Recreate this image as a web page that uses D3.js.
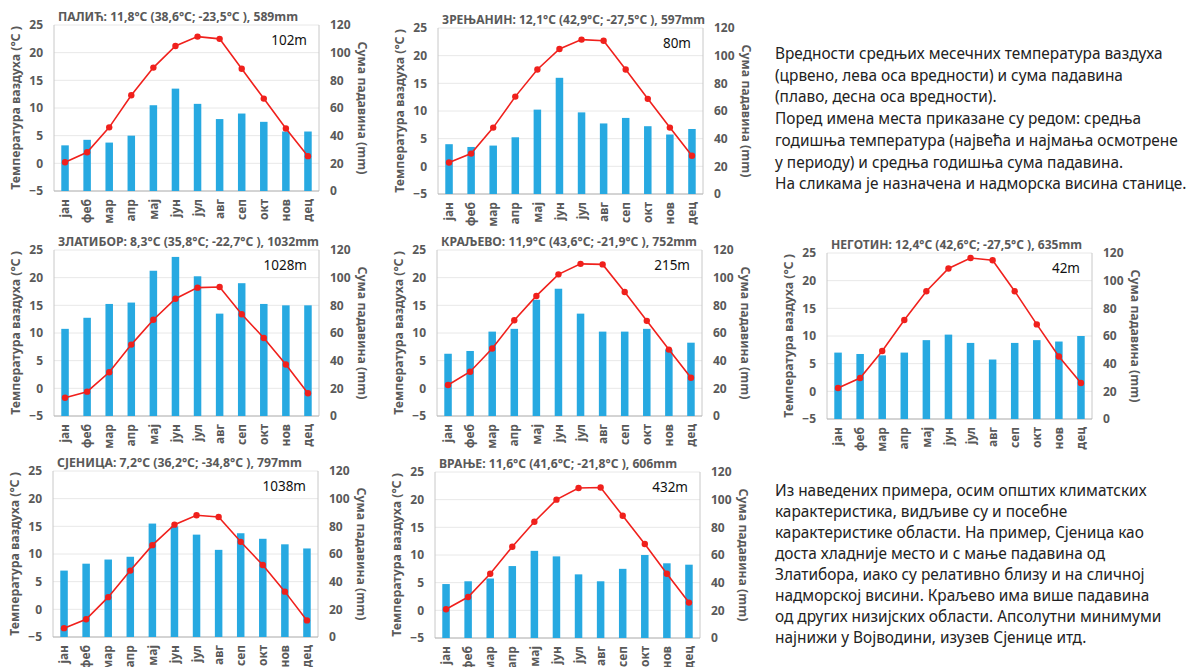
<!DOCTYPE html>
<html>
<head>
<meta charset="utf-8">
<script src="https://cdn.jsdelivr.net/npm/d3@7"></script>
<style>
body { margin: 0; background: #fff; }
svg text { font-family: "Noto Sans", "Open Sans", sans-serif; }
</style>
</head>
<body>
<svg id="chart" width="1191" height="667"></svg>
<script>
// months + axis ticks
const MONTHS = ["јан","феб","мар","апр","мај","јун","јул","авг","сеп","окт","нов","дец"];
const TEMP_TICKS = [-5, 0, 5, 10, 15, 20, 25];
const PRECIP_TICKS = [0, 20, 40, 60, 80, 100, 120];

// station headers
const TITLES = [
    "ПАЛИЋ: 11,8°C (38,6°C; -23,5°C ), 589mm",
    "ЗРЕЊАНИН: 12,1°C (42,9°C; -27,5°C ), 597mm",
    "ЗЛАТИБОР: 8,3°C (35,8°C; -22,7°C ), 1032mm",
    "КРАЉЕВО: 11,9°C (43,6°C; -21,9°C ), 752mm",
    "НЕГОТИН: 12,4°C (42,6°C; -27,5°C ), 635mm",
    "СЈЕНИЦА: 7,2°C (36,2°C; -34,8°C ), 797mm",
    "ВРАЊЕ: 11,6°C (41,6°C; -21,8°C ), 606mm"
];
const ALTITUDES = ["102m", "80m", "1028m", "215m", "42m", "1038m", "432m"];

// mean monthly temperature (°C)
const TEMP_PALIC     = [0.2, 2.0, 6.5, 12.3, 17.3, 21.2, 22.9, 22.5, 17.1, 11.7, 6.3, 1.3];
const TEMP_ZRENJANIN = [0.7, 2.3, 7.0, 12.6, 17.5, 21.2, 22.9, 22.7, 17.5, 12.2, 7.0, 1.9];
const TEMP_ZLATIBOR  = [-1.7, -0.6, 2.9, 7.9, 12.4, 16.2, 18.2, 18.3, 13.4, 9.1, 4.3, -0.9];
const TEMP_KRALJEVO  = [0.6, 3.0, 7.2, 12.3, 16.7, 20.6, 22.5, 22.4, 17.4, 12.2, 7.0, 1.9];
const TEMP_NEGOTIN   = [0.6, 2.4, 7.3, 12.9, 18.1, 22.2, 24.1, 23.7, 18.1, 12.1, 6.3, 1.5];
const TEMP_SJENICA   = [-3.4, -1.8, 2.2, 7.0, 11.6, 15.3, 17.0, 16.7, 12.2, 8.0, 3.2, -2.0];
const TEMP_VRANJE    = [0.2, 2.4, 6.6, 11.5, 16.0, 20.0, 22.1, 22.2, 17.1, 12.0, 6.6, 1.4];

// monthly precipitation (mm)
const PRECIP_PALIC     = [33, 37, 35, 40, 62, 74, 63, 52, 56, 50, 43, 43];
const PRECIP_ZRENJANIN = [36, 34, 35, 41, 61, 84, 59, 51, 55, 49, 43, 47];
const PRECIP_ZLATIBOR  = [63, 71, 81, 82, 105, 115, 101, 74, 96, 81, 80, 80];
const PRECIP_KRALJEVO  = [45, 47, 61, 63, 84, 92, 74, 61, 61, 63, 48, 53];
const PRECIP_NEGOTIN   = [48, 47, 46, 48, 57, 61, 55, 43, 55, 57, 56, 60];
const PRECIP_SJENICA   = [48, 53, 56, 58, 82, 80, 74, 63, 75, 71, 67, 64];
const PRECIP_VRANJE    = [39, 41, 43, 52, 63, 59, 46, 41, 50, 60, 54, 53];

const NOTE_TOP = [
    "Вредности средњих месечних температура ваздуха",
    "(црвено, лева оса вредности) и сума падавина",
    "(плаво, десна оса вредности).",
    "Поред имена места приказане су редом: средња",
    "годишња температура (највећа и најмања осмотрене",
    "у периоду) и средња годишња сума падавина.",
    "На сликама је назначена и надморска висина станице."
];
const NOTE_BOTTOM = [
    "Из наведених примера, осим општих климатских",
    "карактеристика, видљиве су и посебне",
    "карактеристике области. На пример, Сјеница као",
    "доста хладније место и с мање падавина од",
    "Златибора, иако су релативно близу и на сличној",
    "надморској висини. Краљево има више падавина",
    "од других низијских области. Апсолутни минимуми",
    "најнижи у Војводини, изузев Сјенице итд."
];

const PLOT_W = 265;
const PLOT_H = 166;
const GRAY = "#595959";
const BAR_COLOR = "#27a9e1";
const LINE_COLOR = "#f0201c";
const TICK_SIZE = 12;

// plot-area top-left corner of every panel, and header width
const PANEL_POS = [[54, 25], [438, 28], [54, 250], [437, 250], [827, 253], [53, 471], [435, 472]];
const TITLE_W = [240, 263, 261, 256, 251, 245, 238];
const TEMPS = [TEMP_PALIC, TEMP_ZRENJANIN, TEMP_ZLATIBOR, TEMP_KRALJEVO, TEMP_NEGOTIN, TEMP_SJENICA, TEMP_VRANJE];
const PRECIPS = [PRECIP_PALIC, PRECIP_ZRENJANIN, PRECIP_ZLATIBOR, PRECIP_KRALJEVO, PRECIP_NEGOTIN, PRECIP_SJENICA, PRECIP_VRANJE];

var svg = d3.select("#chart");

var x = d3.scaleBand().domain(MONTHS).range([0, PLOT_W]);
var yT = d3.scaleLinear().domain([-5, 25]).range([PLOT_H, 0]);
var yP = d3.scaleLinear().domain([0, 120]).range([PLOT_H, 0]);

function styleTicks(g, size){
    g.select(".domain").remove();
    g.selectAll(".tick text")
        .attr("fill", GRAY)
        .style("font-size", size + "px")
        .style("font-weight", "bold");
}

function drawPanel(i){
    var temp = TEMPS[i],
        precip = PRECIPS[i],
        pos = PANEL_POS[i];

    var g = svg.append("g")
        .attr("transform", `translate(${pos[0]},${pos[1]})`);

    // gridlines
    g.selectAll(".grid")
        .data(TEMP_TICKS)
        .enter()
        .append("line")
        .attr("x1", 0)
        .attr("x2", PLOT_W)
        .attr("y1", d => yT(d))
        .attr("y2", d => yT(d))
        .attr("stroke", "#e8e8e8")
        .attr("stroke-width", 1);

    // frame
    g.append("line").attr("x1", 0).attr("x2", 0).attr("y1", 0).attr("y2", PLOT_H).attr("stroke", "#c8c8c8");
    g.append("line").attr("x1", PLOT_W).attr("x2", PLOT_W).attr("y1", 0).attr("y2", PLOT_H).attr("stroke", "#c8c8c8");
    g.append("line").attr("x1", 0).attr("x2", PLOT_W).attr("y1", PLOT_H).attr("y2", PLOT_H).attr("stroke", "#b4b4b4");

    // bars
    var bw = x.bandwidth() * 0.34;
    g.selectAll(".bar")
        .data(precip)
        .enter()
        .append("rect")
        .attr("x", (d, j) => x(MONTHS[j]) + (x.bandwidth() - bw) / 2)
        .attr("y", d => yP(d))
        .attr("width", bw)
        .attr("height", d => PLOT_H - yP(d))
        .attr("fill", BAR_COLOR);

    // temperature line
    var line = d3.line()
        .x((d, j) => x(MONTHS[j]) + x.bandwidth() / 2)
        .y(d => yT(d));

    g.append("path")
        .datum(temp)
        .attr("d", line)
        .attr("fill", "none")
        .attr("stroke", LINE_COLOR)
        .attr("stroke-width", 1.6);

    g.selectAll(".dot")
        .data(temp)
        .enter()
        .append("circle")
        .attr("cx", (d, j) => x(MONTHS[j]) + x.bandwidth() / 2)
        .attr("cy", d => yT(d))
        .attr("r", 3.2)
        .attr("fill", LINE_COLOR);

    // axes
    g.append("g")
        .call(d3.axisLeft(yT).tickValues(TEMP_TICKS).tickSize(0).tickPadding(11))
        .call(a => styleTicks(a, TICK_SIZE));

    g.append("g")
        .attr("transform", `translate(${PLOT_W},0)`)
        .call(d3.axisRight(yP).tickValues(PRECIP_TICKS).tickSize(0).tickPadding(11))
        .call(a => styleTicks(a, TICK_SIZE));

    g.append("g")
        .attr("transform", `translate(0,${PLOT_H})`)
        .call(d3.axisBottom(x).tickSize(0))
        .call(a => styleTicks(a, TICK_SIZE))
        .call(a => a.selectAll(".tick text")
            .attr("transform", "rotate(-90)")
            .attr("text-anchor", "end")
            .attr("x", -8)
            .attr("y", 0)
            .attr("dy", "0.35em"));

    // axis titles
    g.append("text")
        .attr("transform", `translate(-38,${PLOT_H / 2}) rotate(-90)`)
        .attr("text-anchor", "middle")
        .attr("dy", "0.35em")
        .attr("fill", GRAY)
        .style("font-size", "12.3px")
        .style("font-weight", "bold")
        .text("Температура ваздуха (°C )");

    g.append("text")
        .attr("transform", `translate(${PLOT_W + 43},${PLOT_H / 2}) rotate(90)`)
        .attr("text-anchor", "middle")
        .attr("dy", "0.35em")
        .attr("fill", GRAY)
        .style("font-size", "12.3px")
        .style("font-weight", "bold")
        .text("Сума падавина (mm)");

    // header + altitude
    g.append("text")
        .attr("x", 4)
        .attr("y", -4)
        .attr("fill", GRAY)
        .attr("textLength", TITLE_W[i])
        .attr("lengthAdjust", "spacingAndGlyphs")
        .style("font-size", "12px")
        .style("font-weight", "bold")
        .text(TITLES[i]);

    g.append("text")
        .attr("x", PLOT_W - 12)
        .attr("y", 20)
        .attr("text-anchor", "end")
        .attr("fill", "#111")
        .style("font-size", "13.5px")
        .text(ALTITUDES[i]);
}

TITLES.forEach((t, i) => drawPanel(i));

function drawNote(lines, x0, y0, step){
    svg.append("g")
        .selectAll("text")
        .data(lines)
        .enter()
        .append("text")
        .attr("x", x0)
        .attr("y", (d, i) => y0 + i * step)
        .attr("fill", "#222")
        .style("font-size", "15.4px")
        .text(d => d);
}

drawNote(NOTE_TOP, 775, 59, 21.7);
drawNote(NOTE_BOTTOM, 775, 496, 21.05);
</script>
</body>
</html>
